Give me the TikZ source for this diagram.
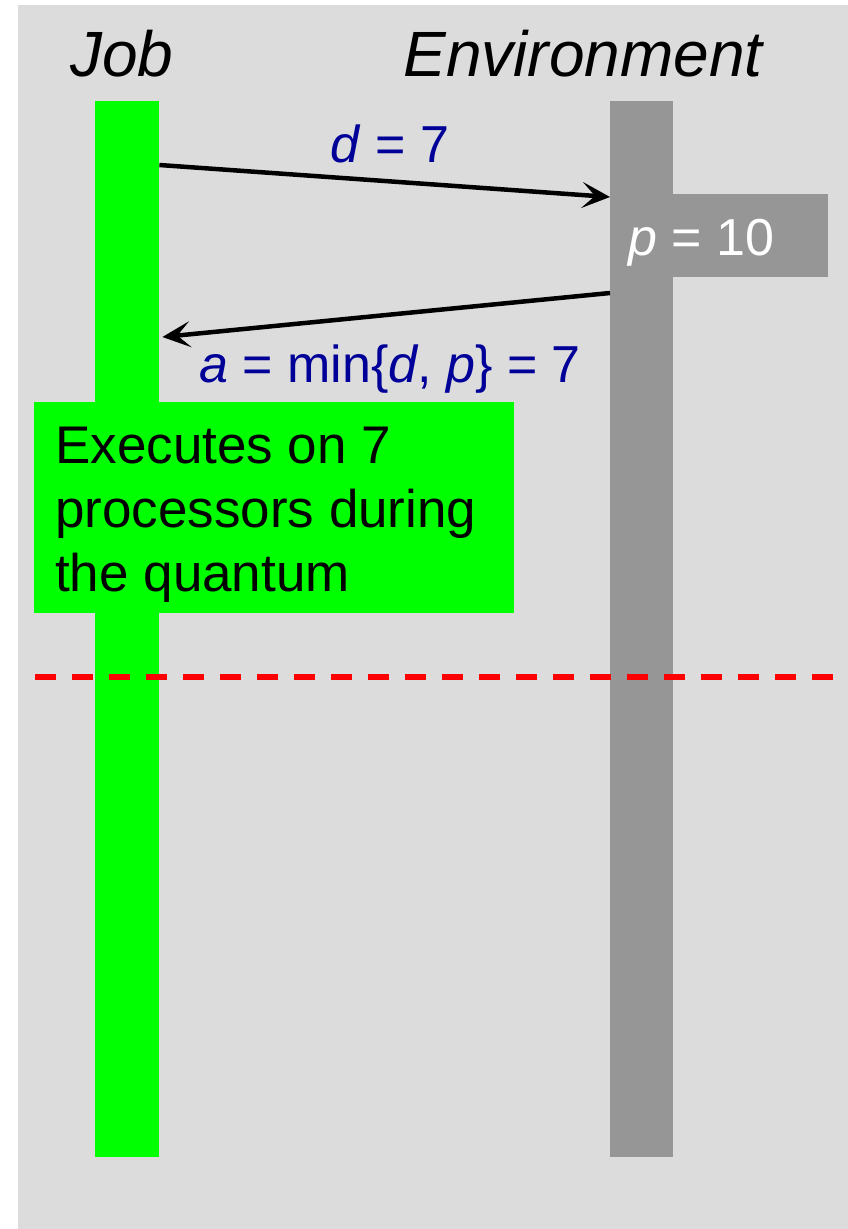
\documentclass[tikz,border=0pt]{standalone}
\usepackage{fontspec}
\setmainfont{Liberation Sans}
\usetikzlibrary{arrows.meta,calc}
\definecolor{bggray}{HTML}{DCDCDC}
\definecolor{bargreen}{HTML}{00FF00}
\definecolor{bargray}{HTML}{969696}
\definecolor{lblblue}{HTML}{000099}
\tikzset{
  bar/.style={rectangle, inner sep=0pt, anchor=north west},
  msg/.style={line width=4.5pt, -{Stealth[length=28pt,width=26pt,inset=13pt]}},
  lbl/.style={text=lblblue, font=\fontsize{52}{62}\selectfont, inner sep=0pt, anchor=base},
  head/.style={font=\fontsize{64}{76}\selectfont\itshape, inner sep=0pt, anchor=base},
}
\begin{document}
\begin{tikzpicture}[x=1pt,y=-1pt]
\useasboundingbox (0,0) rectangle (848,1229);
\fill[bggray] (18,5) rectangle (848,1229);
% lifelines
\node[bar, fill=bargreen, minimum width=64pt, minimum height=1056pt] (job) at (95,101) {};
\node[bar, fill=bargray, minimum width=63pt, minimum height=1056pt] (env) at (610,101) {};
% headings
\node[head] (jobh) at (122,76) {Job};
\node[head] (envh) at (583,76) {Environment};
% p box
\node[bar, fill=bargray, minimum width=218pt, minimum height=83pt] (pbox) at (610,194) {};
\node[text=white, font=\fontsize{52}{62}\selectfont, inner sep=0pt, anchor=base west] (ptext) at (628,255) {\textit{p} = 10};
% messages
\coordinate (m1s) at ($(job.north east)+(0,64)$);
\coordinate (m1e) at ($(env.north west)+(0,96)$);
\draw[msg] (m1s) -- (m1e);
\node[lbl] (dlbl) at (390,162) {\textit{d} = 7};
\coordinate (m2s) at ($(env.north west)+(0,192)$);
\coordinate (m2e) at ($(job.north east)+(3,236)$);
\draw[msg] (m2s) -- (m2e);
\node[lbl] (albl) at (390,382) {\textit{a} = min\{\textit{d}, \textit{p}\} = 7};
% execution box
\node[bar, fill=bargreen, minimum width=480pt, minimum height=211pt] (exec) at (34,402) {};
\node[inner sep=0pt, anchor=base west, align=left, font=\fontsize{53}{64}\selectfont] (exect) at (55,591)
  {Executes on 7\\processors during\\the quantum};
% quantum boundary
\coordinate (qL) at (35,677);
\coordinate (qR) at (834,677);
\draw[red, line width=5.3pt, dash pattern=on 21pt off 16pt] (qL) -- (qR);
\end{tikzpicture}
\end{document}
